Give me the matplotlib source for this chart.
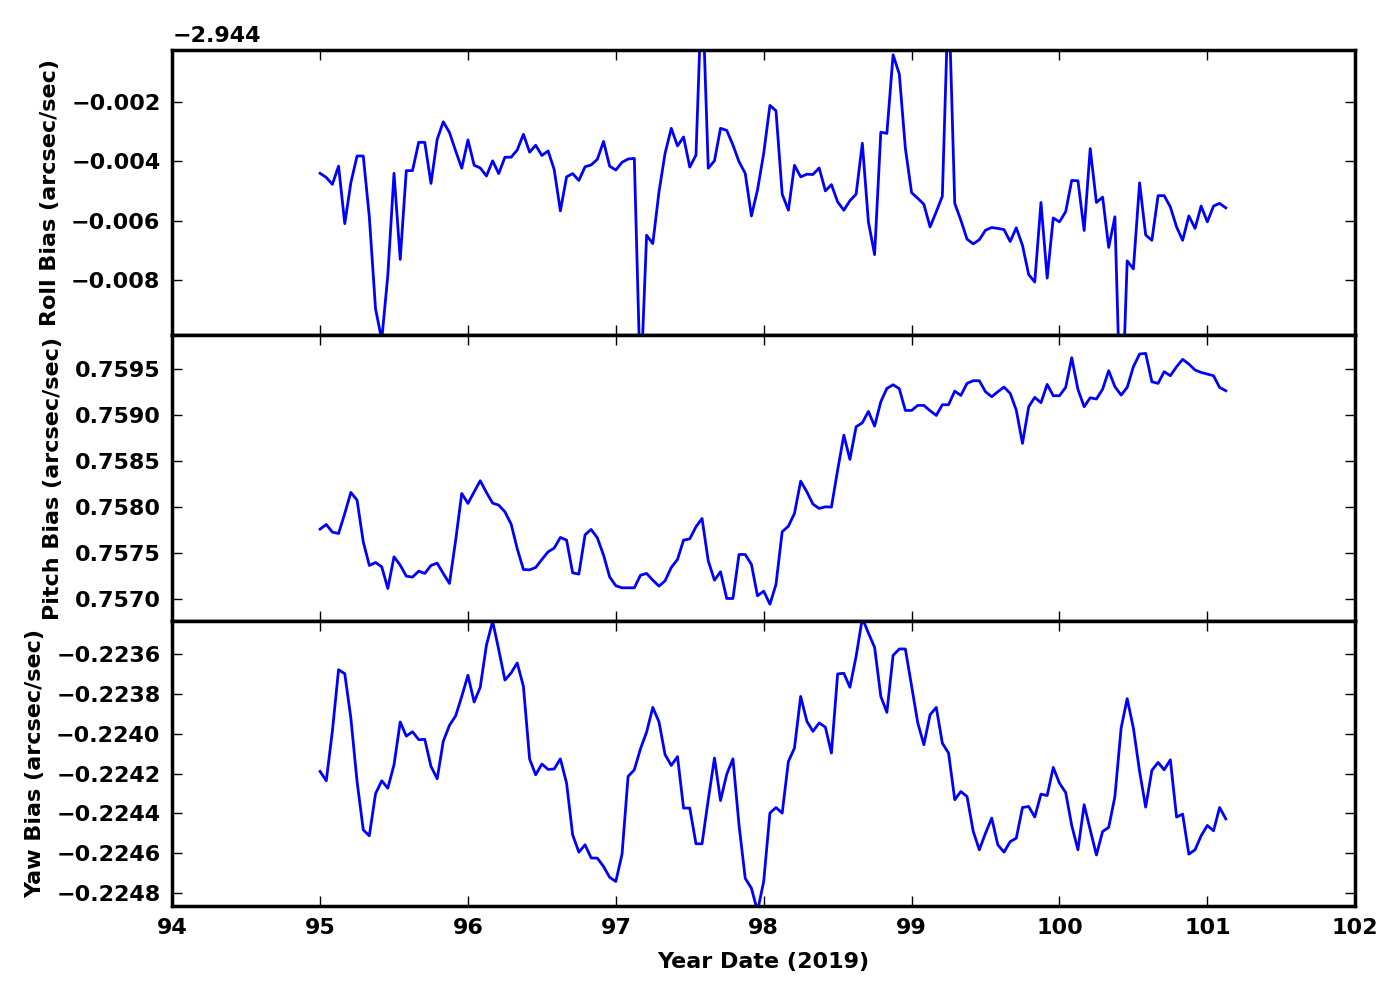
import matplotlib
matplotlib.use("Agg")
import matplotlib.pyplot as plt
from matplotlib.ticker import MultipleLocator, ScalarFormatter

# hourly samples, day of year 2019
year_date = [
    95.000, 95.042, 95.083, 95.125, 95.167, 95.208, 95.250, 95.292, 95.333, 95.375, 95.417, 95.458,
    95.500, 95.542, 95.583, 95.625, 95.667, 95.708, 95.750, 95.792, 95.833, 95.875, 95.917, 95.958,
    96.000, 96.042, 96.083, 96.125, 96.167, 96.208, 96.250, 96.292, 96.333, 96.375, 96.417, 96.458,
    96.500, 96.542, 96.583, 96.625, 96.667, 96.708, 96.750, 96.792, 96.833, 96.875, 96.917, 96.958,
    97.000, 97.042, 97.083, 97.125, 97.167, 97.208, 97.250, 97.292, 97.333, 97.375, 97.417, 97.458,
    97.500, 97.542, 97.583, 97.625, 97.667, 97.708, 97.750, 97.792, 97.833, 97.875, 97.917, 97.958,
    98.000, 98.042, 98.083, 98.125, 98.167, 98.208, 98.250, 98.292, 98.333, 98.375, 98.417, 98.458,
    98.500, 98.542, 98.583, 98.625, 98.667, 98.708, 98.750, 98.792, 98.833, 98.875, 98.917, 98.958,
    99.000, 99.042, 99.083, 99.125, 99.167, 99.208, 99.250, 99.292, 99.333, 99.375, 99.417, 99.458,
    99.500, 99.542, 99.583, 99.625, 99.667, 99.708, 99.750, 99.792, 99.833, 99.875, 99.917, 99.958,
    100.000, 100.042, 100.083, 100.125, 100.167, 100.208, 100.250, 100.292, 100.333, 100.375, 100.417, 100.458,
    100.500, 100.542, 100.583, 100.625, 100.667, 100.708, 100.750, 100.792, 100.833, 100.875, 100.917, 100.958,
    101.000, 101.042, 101.083, 101.125,
]

roll_bias = [
    -2.94841, -2.94855, -2.94878, -2.94817, -2.95010, -2.94873, -2.94783, -2.94783, -2.94987, -2.95296, -2.95400, -2.95184,
    -2.94841, -2.95130, -2.94832, -2.94832, -2.94737, -2.94737, -2.94875, -2.94727, -2.94668, -2.94704, -2.94766, -2.94824,
    -2.94729, -2.94814, -2.94823, -2.94850, -2.94799, -2.94842, -2.94787, -2.94787, -2.94763, -2.94710, -2.94770, -2.94747,
    -2.94781, -2.94766, -2.94828, -2.94967, -2.94853, -2.94842, -2.94865, -2.94819, -2.94813, -2.94794, -2.94734, -2.94817,
    -2.94830, -2.94804, -2.94793, -2.94791, -2.95570, -2.95049, -2.95077, -2.94903, -2.94774, -2.94690, -2.94749, -2.94719,
    -2.94820, -2.94780, -2.94190, -2.94824, -2.94799, -2.94690, -2.94697, -2.94746, -2.94802, -2.94841, -2.94984, -2.94897,
    -2.94774, -2.94613, -2.94631, -2.94911, -2.94965, -2.94814, -2.94853, -2.94844, -2.94845, -2.94823, -2.94900, -2.94879,
    -2.94937, -2.94965, -2.94933, -2.94911, -2.94740, -2.95004, -2.95114, -2.94703, -2.94707, -2.94443, -2.94508, -2.94757,
    -2.94906, -2.94925, -2.94945, -2.95021, -2.94970, -2.94918, -2.94220, -2.94942, -2.94998, -2.95062, -2.95078, -2.95064,
    -2.95032, -2.95023, -2.95026, -2.95030, -2.95070, -2.95024, -2.95083, -2.95181, -2.95206, -2.94939, -2.95193, -2.94991,
    -2.95004, -2.94970, -2.94865, -2.94866, -2.95033, -2.94758, -2.94939, -2.94921, -2.95090, -2.94987, -2.95730, -2.95135,
    -2.95162, -2.94873, -2.95048, -2.95066, -2.94916, -2.94916, -2.94954, -2.95021, -2.95066, -2.94984, -2.95026, -2.94951,
    -2.95004, -2.94951, -2.94942, -2.94957,
]

pitch_bias = [
    0.757765, 0.757815, 0.757732, 0.757717, 0.757935, 0.758163, 0.758080, 0.757627, 0.757370, 0.757402, 0.757355, 0.757120,
    0.757464, 0.757373, 0.757254, 0.757243, 0.757308, 0.757283, 0.757370, 0.757395, 0.757283, 0.757174, 0.757645, 0.758152,
    0.758044, 0.758170, 0.758290, 0.758163, 0.758047, 0.758025, 0.757953, 0.757819, 0.757554, 0.757326, 0.757322, 0.757348,
    0.757435, 0.757518, 0.757558, 0.757674, 0.757645, 0.757290, 0.757276, 0.757703, 0.757761, 0.757670, 0.757482, 0.757246,
    0.757149, 0.757127, 0.757127, 0.757127, 0.757264, 0.757283, 0.757210, 0.757145, 0.757203, 0.757348, 0.757435, 0.757645,
    0.757659, 0.757790, 0.757880, 0.757420, 0.757210, 0.757301, 0.757011, 0.757011, 0.757489, 0.757489, 0.757381, 0.757040,
    0.757091, 0.756949, 0.757163, 0.757736, 0.757797, 0.757935, 0.758286, 0.758170, 0.758036, 0.757989, 0.758007, 0.758004,
    0.758406, 0.758786, 0.758522, 0.758877, 0.758920, 0.759043, 0.758884, 0.759149, 0.759293, 0.759333, 0.759290, 0.759054,
    0.759054, 0.759109, 0.759109, 0.759051, 0.759000, 0.759116, 0.759116, 0.759264, 0.759217, 0.759348, 0.759377, 0.759377,
    0.759257, 0.759203, 0.759257, 0.759308, 0.759239, 0.759058, 0.758696, 0.759094, 0.759196, 0.759138, 0.759337, 0.759214,
    0.759214, 0.759304, 0.759627, 0.759283, 0.759094, 0.759192, 0.759178, 0.759286, 0.759486, 0.759312, 0.759221, 0.759304,
    0.759529, 0.759667, 0.759674, 0.759366, 0.759348, 0.759475, 0.759431, 0.759529, 0.759609, 0.759558, 0.759493, 0.759467,
    0.759449, 0.759431, 0.759304, 0.759268,
]

yaw_bias = [
    -0.224189, -0.224236, -0.223988, -0.223679, -0.223699, -0.223921, -0.224239, -0.224482, -0.224512, -0.224301, -0.224236, -0.224273,
    -0.224156, -0.223941, -0.224012, -0.223990, -0.224030, -0.224028, -0.224164, -0.224226, -0.224038, -0.223958, -0.223910, -0.223813,
    -0.223707, -0.223841, -0.223767, -0.223556, -0.223436, -0.223578, -0.223731, -0.223695, -0.223645, -0.223762, -0.224127, -0.224206,
    -0.224152, -0.224179, -0.224177, -0.224126, -0.224248, -0.224507, -0.224594, -0.224557, -0.224623, -0.224624, -0.224666, -0.224720,
    -0.224741, -0.224604, -0.224214, -0.224181, -0.224075, -0.223992, -0.223868, -0.223941, -0.224105, -0.224159, -0.224115, -0.224373,
    -0.224373, -0.224552, -0.224552, -0.224331, -0.224122, -0.224335, -0.224203, -0.224126, -0.224457, -0.224725, -0.224775, -0.224890,
    -0.224741, -0.224398, -0.224370, -0.224398, -0.224139, -0.224072, -0.223813, -0.223938, -0.223988, -0.223946, -0.223967, -0.224097,
    -0.223700, -0.223697, -0.223767, -0.223612, -0.223420, -0.223495, -0.223567, -0.223813, -0.223893, -0.223607, -0.223575, -0.223575,
    -0.223762, -0.223946, -0.224055, -0.223905, -0.223868, -0.224047, -0.224097, -0.224331, -0.224290, -0.224315, -0.224490, -0.224582,
    -0.224499, -0.224423, -0.224557, -0.224594, -0.224541, -0.224524, -0.224370, -0.224365, -0.224418, -0.224303, -0.224310, -0.224169,
    -0.224248, -0.224295, -0.224460, -0.224582, -0.224356, -0.224482, -0.224608, -0.224490, -0.224470, -0.224315, -0.223972, -0.223824,
    -0.223972, -0.224189, -0.224368, -0.224184, -0.224144, -0.224181, -0.224131, -0.224418, -0.224403, -0.224604, -0.224582, -0.224512,
    -0.224460, -0.224487, -0.224370, -0.224427,
]

plt.rcParams['font.family'] = ['DejaVu Sans']
plt.rcParams['font.weight'] = 'bold'
plt.rcParams['axes.labelweight'] = 'bold'
plt.rcParams['font.size'] = 16

fig, axes = plt.subplots(3, 1, sharex=True, figsize=(14, 10), dpi=100)
fig.subplots_adjust(left=0.123, right=0.968, bottom=0.094, top=0.95, hspace=0)

panels = [
    (roll_bias, 'Roll Bias (arcsec/sec)', (-2.95385, -2.94427), 0.002),
    (pitch_bias, 'Pitch Bias (arcsec/sec)', (0.75677, 0.75987), 0.0005),
    (yaw_bias, 'Yaw Bias (arcsec/sec)', (-0.224864, -0.223433), 0.0002),
]

for ax, (vals, label, ylim, step) in zip(axes, panels):
    ax.plot(year_date, vals, color='b', lw=2)
    ax.set_ylim(ylim)
    ax.set_ylabel(label, labelpad=8)
    ax.yaxis.set_major_locator(MultipleLocator(step))
    for sp in ax.spines.values():
        sp.set_linewidth(2.5)
    ax.tick_params(direction='in', length=7, width=1, pad=8.5,
                   top=True, right=True)

axes[0].yaxis.set_major_formatter(ScalarFormatter(useOffset=-2.944))
axes[0].yaxis.OFFSETTEXTPAD = 6
axes[1].ticklabel_format(axis='y', useOffset=False)
axes[2].ticklabel_format(axis='y', useOffset=False)

axes[2].set_xlim(94, 102)
axes[2].xaxis.set_major_locator(MultipleLocator(1))
axes[2].set_xlabel('Year Date (2019)', labelpad=10)

fig.savefig('out.png', dpi=100)
